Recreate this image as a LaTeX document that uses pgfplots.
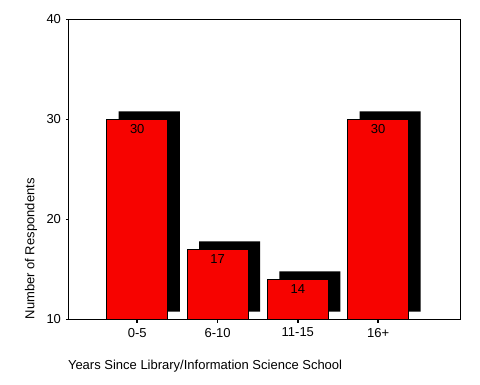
\documentclass[border=0pt]{standalone}
\usepackage{pgfplots}
\pgfplotsset{compat=1.18}
\usepackage{fontspec}
\setmainfont{Liberation Sans}
\definecolor{barred}{RGB}{247,3,0}
\pgfplotstableread{
x y
0 30
1 17
2 14
3 30
}\datatable
\begin{document}
\fontsize{13bp}{15bp}\selectfont
\begin{tikzpicture}
\useasboundingbox (-69bp,-65bp) rectangle (411bp,319.5bp);
\pgfplotsset{common/.style={
  scale only axis, width=391bp, height=300bp,
  xmin=-0.85, xmax=4.02, ymin=10, ymax=40,
  ybar, bar width=0.76, bar shift=0pt,
  /pgf/number format/assume math mode=true,
}}
% shadow axis (offset copy)
\begin{axis}[common, at={(12bp,8bp)}, hide axis]
\addplot[fill=black, draw=none] table[x=x,y=y] {\datatable};
\end{axis}
% main axis
\begin{axis}[common,
  axis line style={line width=1bp},
  xtick={0,1,2,3}, xticklabels={0-5,6-10,11-15,16+},
  ytick={10,20,30,40},
  xtick pos=left, ytick pos=left,
  tick align=outside, major tick length=3bp,
  tick style={line width=1.5bp, black},
  yticklabel style={xshift=-0.5bp},
  xticklabel style={yshift=-1bp},
  ticklabel style={font=\fontsize{13bp}{15bp}\selectfont},
  xlabel={Years Since Library/Information Science School},
  ylabel={Number of Respondents},
  xlabel style={at={(axis description cs:-0.003,-0.157)}, anchor=west, inner sep=0pt, font=\fontsize{13bp}{15bp}\selectfont},
  ylabel style={at={(axis description cs:-0.097,0)}, anchor=west, inner sep=0pt, font=\fontsize{13bp}{15bp}\selectfont},
  nodes near coords,
  nodes near coords style={anchor=north, text=black, font=\fontsize{13bp}{15bp}\selectfont},
]
\addplot[fill=barred, draw=black, line width=0.8bp] table[x=x,y=y] {\datatable};
\end{axis}
\end{tikzpicture}
\end{document}
